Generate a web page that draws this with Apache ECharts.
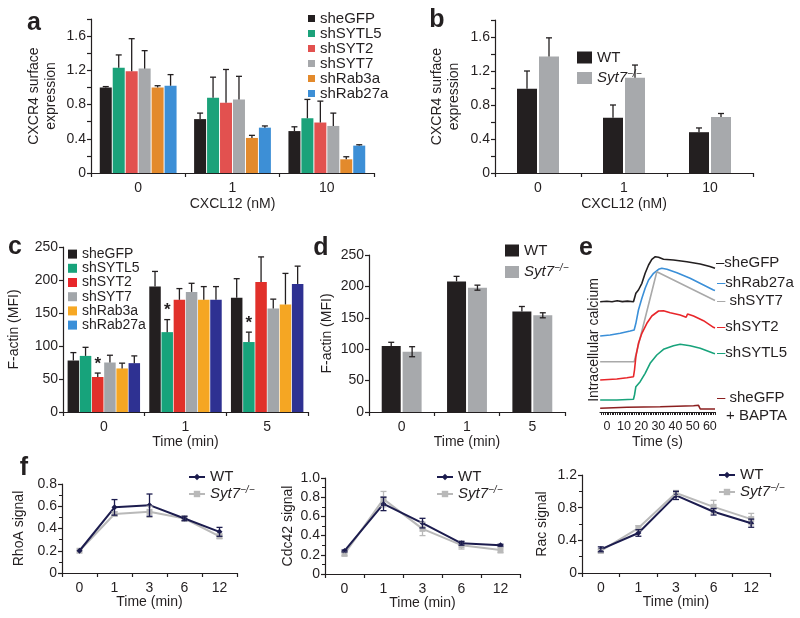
<!DOCTYPE html>
<html><head><meta charset="utf-8">
<script src="https://cdn.jsdelivr.net/npm/echarts@6/dist/echarts.min.js"></script>
<style>html,body{margin:0;padding:0;background:#fff}#c{width:800px;height:618px}</style>
</head><body><div id="c"></div>
<script>
// ---------- DATA ----------
// panel a: CXCR4 surface expression, shRNA
const aCategories = ['0', '1', '10'];
const aNames = ['sheGFP', 'shSYTL5', 'shSYT2', 'shSYT7', 'shRab3a', 'shRab27a'];
const a_sheGFP = [1.00, 0.63, 0.49],  a_sheGFP_err = [0.01, 0.07, 0.05];
const a_shSYTL5 = [1.23, 0.88, 0.64], a_shSYTL5_err = [0.15, 0.24, 0.22];
const a_shSYT2 = [1.19, 0.82, 0.59],  a_shSYT2_err = [0.38, 0.39, 0.25];
const a_shSYT7 = [1.22, 0.86, 0.55],  a_shSYT7_err = [0.21, 0.27, 0.15];
const a_shRab3a = [1.00, 0.41, 0.16], a_shRab3a_err = [0.02, 0.03, 0.03];
const a_shRab27a = [1.02, 0.53, 0.32], a_shRab27a_err = [0.13, 0.02, 0.01];
// panel b: CXCR4, WT vs Syt7-/-
const bCategories = ['0', '1', '10'];
const b_WT = [0.99, 0.65, 0.48],   b_WT_err = [0.21, 0.15, 0.05];
const b_Syt7 = [1.37, 1.12, 0.66], b_Syt7_err = [0.22, 0.15, 0.04];
// panel c: F-actin, shRNA
const cCategories = ['0', '1', '5'];
const c_sheGFP = [78, 190, 173],   c_sheGFP_err = [12, 23, 29];
const c_shSYTL5 = [85, 121, 106],  c_shSYTL5_err = [13, 19, 15];
const c_shSYT2 = [53, 170, 197],   c_shSYT2_err = [6, 17, 38];
const c_shSYT7 = [75, 182, 157],   c_shSYT7_err = [11, 13, 14];
const c_shRab3a = [66, 170, 163],  c_shRab3a_err = [8, 20, 47];
const c_shRab27a = [74, 170, 194], c_shRab27a_err = [11, 20, 27];
const c_stars_shSYTL5 = [0, 1, 1];
const c_stars_shSYT2 = [1, 0, 0];
// panel d: F-actin, WT vs Syt7-/-
const dCategories = ['0', '1', '5'];
const d_WT = [105, 208, 160],  d_WT_err = [6, 8, 8];
const d_Syt7 = [96, 198, 154], d_Syt7_err = [8, 4, 4];
// panel e: intracellular calcium traces [time s, signal a.u.]
const e_sheGFP = [[-3.9,110.3],[0,110.8],[3,110.2],[6,111.2],[9,110.4],[12,110.9],[15.5,110.3],[15.9,111.3],[16.9,118.7],[18.4,122],[20.4,128.7],[22.3,138.7],[24.3,147],[26.2,152.7],[28.2,155.3],[30.1,154.7],[33.0,152.7],[38.8,152],[46.6,150.3],[54.4,148],[60,145.5],[63,143.7]];
const e_shRab27a = [[-3.9,76],[1.9,77],[7.8,78.7],[13.6,81],[15.9,82],[16.9,88.7],[18.4,102],[20.4,113.7],[22.3,123.7],[24.3,132],[27.2,138.7],[30.1,142.7],[32.0,143.7],[35.0,142.7],[40.8,139.3],[48.5,133.7],[56.3,127],[62.1,122],[63,121.5]];
const e_shSYT7 = [[-3.9,50.3],[15.9,50.3],[29.1,140.3],[63,111.5]];
const e_shSYT2 = [[-3.9,32],[5.8,33],[11.7,34.3],[15.5,35.3],[16.1,42],[16.9,55.3],[18.4,68.7],[20.4,78.7],[23.3,88.7],[26.2,96],[30.1,101],[33.0,101.3],[36.9,99.3],[42.7,97],[46.2,94.7],[47.0,98],[50.5,96],[56.3,91.3],[62.1,84.7],[63,84]];
const e_shSYTL5 = [[-3.9,12],[5.8,12],[15.5,12.7],[16.1,17],[16.9,25.3],[19.4,30.3],[22.3,38.7],[25.2,48.7],[29.1,57],[33.0,62.7],[38.8,66.3],[42.7,67.7],[48.5,66.3],[54.4,63.7],[62.1,58.7],[63,58.3]];
const e_BAPTA = [[-3.9,3.7],[11.7,4.7],[31.1,5.3],[50.5,6.3],[53.4,6.7],[54.4,3],[63,3]];
const eTickLabels = [0, 10, 20, 30, 40, 50, 60];
// panel f: GTPase signals
const fCategories = ['0', '1', '3', '6', '12'];
const f_RhoA_WT = [0.20, 0.59, 0.61, 0.49, 0.37],   f_RhoA_WT_err = [0, 0.07, 0.10, 0.02, 0.04];
const f_RhoA_Syt7 = [0.20, 0.53, 0.55, 0.49, 0.33], f_RhoA_Syt7_err = [0, 0.02, 0.05, 0.02, 0.02];
const f_Cdc42_WT = [0.24, 0.73, 0.53, 0.32, 0.30],   f_Cdc42_WT_err = [0.01, 0.07, 0.05, 0.02, 0.01];
const f_Cdc42_Syt7 = [0.21, 0.78, 0.47, 0.30, 0.25], f_Cdc42_Syt7_err = [0.02, 0.08, 0.07, 0.04, 0.03];
const f_Rac_WT = [0.29, 0.49, 0.95, 0.75, 0.61],   f_Rac_WT_err = [0.03, 0.04, 0.05, 0.04, 0.05];
const f_Rac_Syt7 = [0.27, 0.55, 0.98, 0.81, 0.66], f_Rac_Syt7_err = [0.02, 0.03, 0.03, 0.08, 0.07];

// ---------- STYLE ----------
const FONT = "'Liberation Sans', Arial, Helvetica, sans-serif";
const INK = '#231f20';
const aColors = ['#231f20', '#1ba27a', '#e2514f', '#a6a8ab', '#e38a2c', '#3d8fd6'];
const cColors = ['#231f20', '#17a37b', '#e1302a', '#a2a6aa', '#f5a623', '#2e3192'];
const cLegendColors = ['#231f20', '#17a37b', '#e8262a', '#a2a6aa', '#f7a823', '#3a8fd8'];
const WTc = '#231f20', KOc = '#a7a9ac';
const fWT = '#1c1c4e', fKO = '#b9b9b9';

const syt7Rich = {
  it: {fontStyle: 'italic', fontSize: 15, fontFamily: FONT, color: INK},
  sup: {fontStyle: 'italic', fontSize: 10, fontFamily: FONT, color: INK, padding: [0, 0, 8, 0]}
};
function legendFmt(n) {
  const s = n.split(':')[1];
  return s === 'Syt7' ? '{it|Syt7}{sup|−/−}' : s;
}

function errSeries(gi, means, errs, n, idx, step, color, both, stars, cap) {
  return {
    type: 'custom', xAxisIndex: gi, yAxisIndex: gi, z: 6, silent: true,
    encode: {x: 0, y: 1},
    data: means.map((m, i) => [i, m, errs[i], stars ? stars[i] : 0]),
    renderItem(params, api) {
      const cat = api.value(0), m = api.value(1), e = api.value(2), st = api.value(3);
      const base = api.coord([cat, m]);
      const cx = base[0] + (idx - (n - 1) / 2) * step;
      const yTop = api.coord([cat, m + e])[1];
      const yBot = both ? api.coord([cat, m - e])[1] : base[1];
      const style = {stroke: color, lineWidth: 1.3};
      const ch = [];
      if (e > 0) {
        ch.push({type: 'line', shape: {x1: cx, y1: yBot, x2: cx, y2: yTop}, style});
        ch.push({type: 'line', shape: {x1: cx - cap, y1: yTop, x2: cx + cap, y2: yTop}, style});
        if (both) ch.push({type: 'line', shape: {x1: cx - cap, y1: yBot, x2: cx + cap, y2: yBot}, style});
      }
      if (st) ch.push({type: 'text', x: cx, y: yTop - 9,
        style: {text: '*', fill: INK, font: 'bold 17px ' + FONT, align: 'center', verticalAlign: 'middle'}});
      return {type: 'group', children: ch};
    }
  };
}

function catX(gi, data, name, nameGap) {
  return {
    type: 'category', gridIndex: gi, data,
    axisLine: {show: true, lineStyle: {color: INK, width: 1.2}},
    axisTick: {show: true, length: 4, lineStyle: {color: INK, width: 1.2}},
    axisLabel: {color: INK, fontSize: 14, fontFamily: FONT, margin: 8},
    splitLine: {show: false},
    name, nameLocation: 'middle', nameGap, nameMoveOverlap: false,
    nameTextStyle: {color: INK, fontSize: 14, fontFamily: FONT}
  };
}
function valY(gi, max, interval, labelEvery, decimals, name, nameGap, minorSplit, lh) {
  return {
    type: 'value', gridIndex: gi, min: 0, max, interval,
    axisLine: {show: true, lineStyle: {color: INK, width: 1.2}},
    axisTick: {show: true, length: 4, lineStyle: {color: INK, width: 1.2}},
    minorTick: minorSplit ? {show: true, splitNumber: minorSplit, length: 3, lineStyle: {color: INK, width: 1}} : {show: false},
    axisLabel: {color: INK, fontSize: 14, fontFamily: FONT, margin: 5,
      formatter: v => {
        const k = Math.round(v / interval);
        if (k % labelEvery !== 0) return '';
        return v === 0 ? '0' : v.toFixed(decimals);
      }},
    splitLine: {show: false},
    name, nameLocation: 'middle', nameGap, nameMoveOverlap: false,
    nameTextStyle: {color: INK, fontSize: 14, fontFamily: FONT, lineHeight: lh || 16}
  };
}

// ---------- SERIES ----------
const series = [];
const aMeans = [a_sheGFP, a_shSYTL5, a_shSYT2, a_shSYT7, a_shRab3a, a_shRab27a];
const aErrs = [a_sheGFP_err, a_shSYTL5_err, a_shSYT2_err, a_shSYT7_err, a_shRab3a_err, a_shRab27a_err];
aNames.forEach((nm, i) => {
  series.push({type: 'bar', name: 'a:' + nm, xAxisIndex: 0, yAxisIndex: 0, data: aMeans[i],
    barWidth: 12, barGap: '8%', itemStyle: {color: aColors[i]}, silent: true});
  series.push(errSeries(0, aMeans[i], aErrs[i], 6, i, 12.96, INK, false, null, 3));
});
[['WT', b_WT, b_WT_err, WTc], ['Syt7', b_Syt7, b_Syt7_err, KOc]].forEach((s, i) => {
  series.push({type: 'bar', name: 'b:' + s[0], xAxisIndex: 1, yAxisIndex: 1, data: s[1],
    barWidth: 20, barGap: '10%', itemStyle: {color: s[3]}, silent: true});
  series.push(errSeries(1, s[1], s[2], 2, i, 22, INK, false, null, 3));
});
const cMeans = [c_sheGFP, c_shSYTL5, c_shSYT2, c_shSYT7, c_shRab3a, c_shRab27a];
const cErrs = [c_sheGFP_err, c_shSYTL5_err, c_shSYT2_err, c_shSYT7_err, c_shRab3a_err, c_shRab27a_err];
const cStars = [null, c_stars_shSYTL5, c_stars_shSYT2, null, null, null];
aNames.forEach((nm, i) => {
  series.push({type: 'bar', name: 'c:' + nm, xAxisIndex: 2, yAxisIndex: 2, data: cMeans[i],
    barWidth: 11.5, barGap: '6%', itemStyle: {color: cColors[i]}, silent: true});
  series.push(errSeries(2, cMeans[i], cErrs[i], 6, i, 12.19, INK, false, cStars[i], 3));
});
[['WT', d_WT, d_WT_err, WTc, false], ['Syt7', d_Syt7, d_Syt7_err, KOc, true]].forEach((s, i) => {
  series.push({type: 'bar', name: 'd:' + s[0], xAxisIndex: 3, yAxisIndex: 3, data: s[1],
    barWidth: 19, barGap: '10%', itemStyle: {color: s[3]}, silent: true});
  series.push(errSeries(3, s[1], s[2], 2, i, 20.9, INK, s[4], null, 3));
});
[[e_sheGFP, '#231f20'], [e_shRab27a, '#3a8fd8'], [e_shSYT7, '#a9a9a9'], [e_shSYT2, '#e8262a'],
 [e_shSYTL5, '#18a37b'], [e_BAPTA, '#8b1f1f']].forEach(s => {
  series.push({type: 'line', xAxisIndex: 4, yAxisIndex: 4, data: s[0], showSymbol: false,
    lineStyle: {color: s[1], width: 1.6}, silent: true});
});
const fSets = [
  [5, f_RhoA_WT, f_RhoA_WT_err, f_RhoA_Syt7, f_RhoA_Syt7_err, 'f1'],
  [6, f_Cdc42_WT, f_Cdc42_WT_err, f_Cdc42_Syt7, f_Cdc42_Syt7_err, 'f2'],
  [7, f_Rac_WT, f_Rac_WT_err, f_Rac_Syt7, f_Rac_Syt7_err, 'f3']
];
fSets.forEach(f => {
  const gi = f[0];
  series.push(errSeries(gi, f[3], f[4], 1, 0, 0, fKO, true, null, 3));
  series.push({type: 'line', name: f[5] + ':Syt7', xAxisIndex: gi, yAxisIndex: gi, data: f[3],
    symbol: 'rect', symbolSize: 6, lineStyle: {color: fKO, width: 2}, itemStyle: {color: fKO}, silent: true, z: 3});
  series.push(errSeries(gi, f[1], f[2], 1, 0, 0, fWT, true, null, 3));
  series.push({type: 'line', name: f[5] + ':WT', xAxisIndex: gi, yAxisIndex: gi, data: f[1],
    symbol: 'diamond', symbolSize: 6, lineStyle: {color: fWT, width: 2}, itemStyle: {color: fWT}, silent: true, z: 4});
});

// ---------- LEGENDS ----------
const legTS = {color: INK, fontSize: 15, fontFamily: FONT, rich: syt7Rich};
const legBase = {orient: 'vertical', padding: 0, selectedMode: false, formatter: legendFmt};
const legends = [
  Object.assign({}, legBase, {left: 308, top: 11, itemWidth: 7, itemHeight: 7, itemGap: 0, icon: 'rect',
   textStyle: Object.assign({}, legTS, {lineHeight: 14}), data: aNames.map(n => 'a:' + n)}),
  Object.assign({}, legBase, {left: 577, top: 50, itemWidth: 15, itemHeight: 12, itemGap: 4, icon: 'rect',
   textStyle: legTS, data: ['b:WT', 'b:Syt7']}),
  Object.assign({}, legBase, {left: 68, top: 247, itemWidth: 9, itemHeight: 9, itemGap: 0, icon: 'rect',
   textStyle: Object.assign({}, legTS, {fontSize: 14, lineHeight: 14.2}),
   data: aNames.map((n, i) => ({name: 'c:' + n, itemStyle: {color: cLegendColors[i]}}))}),
  Object.assign({}, legBase, {left: 505, top: 243, itemWidth: 14, itemHeight: 12, itemGap: 5, icon: 'rect',
   textStyle: legTS, data: ['d:WT', 'd:Syt7']}),
  Object.assign({}, legBase, {left: 188, top: 469, itemWidth: 16, itemHeight: 8, itemGap: 0,
   textStyle: Object.assign({}, legTS, {lineHeight: 16}), data: ['f1:WT', 'f1:Syt7']}),
  Object.assign({}, legBase, {left: 436, top: 469, itemWidth: 16, itemHeight: 8, itemGap: 0,
   textStyle: Object.assign({}, legTS, {lineHeight: 16}), data: ['f2:WT', 'f2:Syt7']}),
  Object.assign({}, legBase, {left: 718, top: 467, itemWidth: 16, itemHeight: 8, itemGap: 0,
   textStyle: Object.assign({}, legTS, {lineHeight: 16}), data: ['f3:WT', 'f3:Syt7']})
];

// ---------- GRAPHIC TEXT ----------
function gtext(x, y, text, opts) {
  return {type: 'text', x, y, silent: true,
    style: Object.assign({text, fill: INK, font: '15px ' + FONT, align: 'left', verticalAlign: 'middle'}, opts || {})};
}
const letterFont = 'bold 25px ' + FONT;
const graphics = [
  gtext(34, 23, 'a', {font: letterFont, align: 'center'}),
  gtext(437, 20, 'b', {font: letterFont, align: 'center'}),
  gtext(15, 247, 'c', {font: letterFont, align: 'center'}),
  gtext(321, 248, 'd', {font: letterFont, align: 'center'}),
  gtext(586, 248, 'e', {font: letterFont, align: 'center'}),
  gtext(24, 468, 'f', {font: letterFont, align: 'center'}),
  gtext(716, 263, '–sheGFP'),
  gtext(717, 283, '{d|–}shRab27a', {rich: {d: {fill: '#3a8fd8', font: '15px ' + FONT}}}),
  gtext(717, 301, '{d|–} shSYT7', {rich: {d: {fill: '#a9a9a9', font: '15px ' + FONT}}}),
  gtext(717, 327, '{d|–}shSYT2', {rich: {d: {fill: '#e8262a', font: '15px ' + FONT}}}),
  gtext(717, 353, '{d|–}shSYTL5', {rich: {d: {fill: '#18a37b', font: '15px ' + FONT}}}),
  gtext(717, 398, '{d|–} sheGFP', {rich: {d: {fill: '#8b1f1f', font: '15px ' + FONT}}}),
  gtext(726, 416, '+ BAPTA'),
  {type: 'text', x: 594, y: 340, rotation: Math.PI / 2, silent: true,
   style: {text: 'Intracellular calcium', fill: INK, font: '14px ' + FONT, align: 'center', verticalAlign: 'middle'}}
];

// ---------- OPTION ----------
const grids = [
  {left: 91, top: 19, width: 283, height: 154},
  {left: 495, top: 20, width: 258, height: 153},
  {left: 63, top: 247, width: 245, height: 165},
  {left: 369, top: 255, width: 196, height: 157},
  {left: 600, top: 245, width: 115, height: 167},
  {left: 62, top: 484, width: 175, height: 89},
  {left: 325, top: 478, width: 195, height: 96},
  {left: 582, top: 475, width: 188, height: 98}
].map(g => Object.assign({outerBoundsMode: 'none', containLabel: false}, g));

const eTicks = [];
for (let t = -3; t <= 63; t++) eTicks.push(t);

const xAxes = [
  catX(0, aCategories, 'CXCL12 (nM)', 24),
  catX(1, bCategories, 'CXCL12 (nM)', 24),
  catX(2, cCategories, 'Time (min)', 23),
  catX(3, dCategories, 'Time (min)', 23),
  {type: 'value', gridIndex: 4, min: -4, max: 63,
   axisLine: {show: true, lineStyle: {color: INK, width: 1.2}},
   axisTick: {show: true, customValues: eTicks, length: 3, lineStyle: {color: INK, width: 1}},
   axisLabel: {customValues: eTickLabels, color: INK, fontSize: 12.5, fontFamily: FONT, margin: 8},
   splitLine: {show: false},
   name: 'Time (s)', nameLocation: 'middle', nameGap: 23, nameMoveOverlap: false,
   nameTextStyle: {color: INK, fontSize: 14, fontFamily: FONT}},
  catX(5, fCategories, 'Time (min)', 22),
  catX(6, fCategories, 'Time (min)', 22),
  catX(7, fCategories, 'Time (min)', 22)
];
const yAxes = [
  valY(0, 1.8, 0.2, 2, 1, 'CXCR4 surface\nexpression', 31, 0, 17),
  valY(1, 1.8, 0.2, 2, 1, 'CXCR4 surface\nexpression', 32, 0, 17),
  valY(2, 250, 50, 1, 0, 'F-actin (MFI)', 41, 0),
  valY(3, 250, 50, 1, 0, 'F-actin (MFI)', 34, 0),
  {type: 'value', gridIndex: 4, min: 0, max: 167, show: false},
  valY(5, 0.8, 0.2, 1, 1, 'RhoA signal', 35, 2),
  valY(6, 1.0, 0.2, 1, 1, 'Cdc42 signal', 29, 2),
  valY(7, 1.2, 0.4, 1, 1, 'Rac signal', 32, 2)
];

const chart = echarts.init(document.getElementById('c'), null, {renderer: 'canvas'});
chart.setOption({
  animation: false,
  backgroundColor: '#ffffff',
  textStyle: {fontFamily: FONT},
  grid: grids,
  xAxis: xAxes,
  yAxis: yAxes,
  legend: legends,
  series,
  graphic: graphics
});
</script>
</body></html>
